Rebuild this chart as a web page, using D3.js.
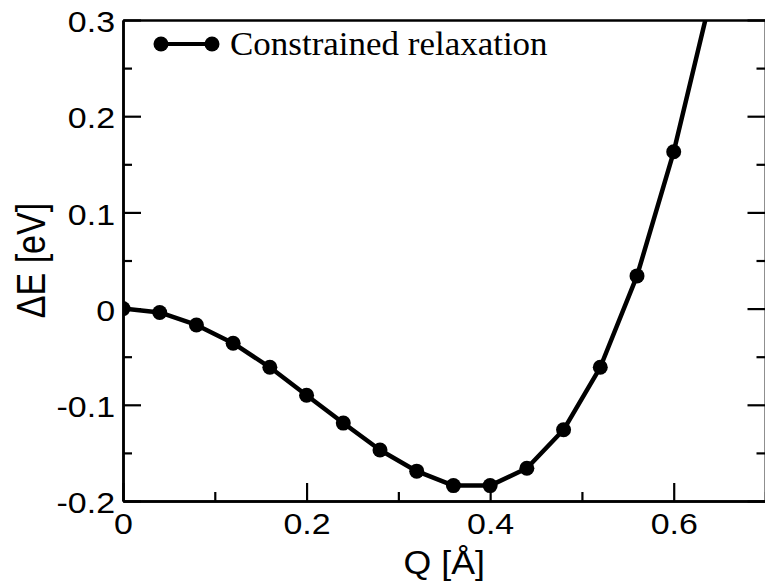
<!DOCTYPE html>
<html>
<head>
<meta charset="utf-8">
<script src="https://cdn.jsdelivr.net/npm/d3@7"></script>
<style>
  html, body { margin: 0; padding: 0; background: #fff; }
  svg { display: block; }
</style>
</head>
<body>
<svg id="chart" width="765" height="587"></svg>
<script>
// ---- data ----
const qValues = [0.00, 0.04, 0.08, 0.12, 0.16, 0.20, 0.24, 0.28, 0.32, 0.36, 0.40, 0.44, 0.48, 0.52, 0.56, 0.60, 0.64];
const energyValues = [0.000, -0.004, -0.017, -0.036, -0.061, -0.090, -0.119, -0.147, -0.169, -0.184, -0.184, -0.166, -0.126, -0.061, 0.034, 0.163, 0.322];
const seriesName = "Constrained relaxation";
const xMajorTicks = [0, 0.2, 0.4, 0.6];
const xMinorTicks = [0.1, 0.3, 0.5, 0.7];
const yMajorTicks = [-0.2, -0.1, 0, 0.1, 0.2, 0.3];
const yMinorTicks = [-0.15, -0.05, 0.05, 0.15, 0.25];
const xLabel = "Q [Å]";
const yLabel = "ΔE [eV]";

(function () {
// ---- layout ----
const pLeft = 123, pRight = 765.5, pTop = 20, pBottom = 501;
const svg = d3.select("#chart");

const x = d3.scaleLinear().domain([0, 0.7]).range([pLeft, pRight]);
const y = d3.scaleLinear().domain([-0.2, 0.3]).range([pBottom, pTop]);

const tickFont = "'Liberation Sans', Arial, Helvetica, sans-serif";
const tickSize = 29, tickStretch = 1.17;
const fmt = d => (d === 0 ? "0" : String(d));

// clip
svg.append("defs").append("clipPath").attr("id", "plotclip")
  .append("rect").attr("x", pLeft).attr("y", pTop).attr("width", pRight - pLeft).attr("height", pBottom - pTop);

// data line + markers
const data = qValues.map((q, i) => ({ q, e: energyValues[i] }));
const plot = svg.append("g").attr("clip-path", "url(#plotclip)");
plot.append("path")
  .datum(data)
  .attr("fill", "none")
  .attr("stroke", "#000")
  .attr("stroke-width", 4.5)
  .attr("stroke-linejoin", "round")
  .attr("d", d3.line().x(d => x(d.q)).y(d => y(d.e)));
plot.selectAll("circle.pt")
  .data(data)
  .join("circle")
  .attr("class", "pt")
  .attr("cx", d => x(d.q))
  .attr("cy", d => y(d.e))
  .attr("r", 7.5)
  .attr("fill", "#000");

// axes
function styleAxis(g) {
  g.select(".domain").attr("stroke", "#000").attr("stroke-width", 2.5);
  g.selectAll(".tick line").attr("stroke", "#000").attr("stroke-width", 2.2);
}

// bottom
const gxMinor = svg.append("g").attr("transform", `translate(0,${pBottom})`)
  .call(d3.axisBottom(x).tickValues(xMinorTicks).tickSize(-9).tickSizeOuter(0).tickFormat(""));
styleAxis(gxMinor);
const gx = svg.append("g").attr("transform", `translate(0,${pBottom})`)
  .call(d3.axisBottom(x).tickValues(xMajorTicks).tickSize(-18).tickSizeOuter(0).tickPadding(12).tickFormat(fmt));
styleAxis(gx);
gx.selectAll(".tick text")
  .attr("fill", "#000")
  .style("font-family", tickFont)
  .style("font-size", tickSize + "px")
  .attr("transform", `scale(${tickStretch},1)`);

// left
const gyMinor = svg.append("g").attr("transform", `translate(${pLeft},0)`)
  .call(d3.axisLeft(y).tickValues(yMinorTicks).tickSize(-9).tickSizeOuter(0).tickFormat(""));
styleAxis(gyMinor);
const gy = svg.append("g").attr("transform", `translate(${pLeft},0)`)
  .call(d3.axisLeft(y).tickValues(yMajorTicks).tickSize(-18).tickSizeOuter(0).tickPadding(8).tickFormat(fmt));
styleAxis(gy);
gy.selectAll(".tick text")
  .attr("fill", "#000")
  .style("font-family", tickFont)
  .style("font-size", tickSize + "px")
  .attr("x", -8 / tickStretch)
  .attr("dy", "0.40em")
  .attr("transform", `scale(${tickStretch},1)`);

// right (ticks only, pointing inward)
const gr1 = svg.append("g").attr("transform", `translate(${pRight},0)`)
  .call(d3.axisRight(y).tickValues(yMinorTicks).tickSize(-9).tickSizeOuter(0).tickFormat(""));
styleAxis(gr1);
const gr2 = svg.append("g").attr("transform", `translate(${pRight},0)`)
  .call(d3.axisRight(y).tickValues(yMajorTicks).tickSize(-18).tickSizeOuter(0).tickFormat(""));
styleAxis(gr2);

// top line (no ticks)
const gt = svg.append("g").attr("transform", `translate(0,${pTop})`)
  .call(d3.axisTop(x).tickValues([]).tickSizeOuter(0));
styleAxis(gt);

// axis labels
const labelFont = "'Liberation Sans', Arial, Helvetica, sans-serif";
svg.append("text")
  .attr("transform", `translate(${(pLeft + pRight) / 2},574) scale(1.05,1)`)
  .attr("text-anchor", "middle")
  .style("font-family", labelFont)
  .style("font-size", "34px")
  .attr("fill", "#000")
  .text(xLabel);
svg.append("text")
  .attr("transform", `translate(45,${(pTop + pBottom) / 2}) scale(1.17,1) rotate(-90)`)
  .attr("text-anchor", "middle")
  .style("font-family", labelFont)
  .style("font-size", "34px")
  .attr("fill", "#000")
  .text(yLabel);

// legend
const lg = svg.append("g");
const lx1 = 161, lx2 = 212, ly = 44;
lg.append("line").attr("x1", lx1).attr("x2", lx2).attr("y1", ly).attr("y2", ly)
  .attr("stroke", "#000").attr("stroke-width", 4);
lg.selectAll("circle").data([lx1, lx2]).join("circle")
  .attr("cx", d => d).attr("cy", ly).attr("r", 7.5).attr("fill", "#000");
lg.append("text")
  .attr("transform", `translate(230,${ly + 11}) scale(1.06,1)`)
  .style("font-family", "'Liberation Serif', 'Times New Roman', Times, serif")
  .style("font-size", "33px")
  .attr("fill", "#000")
  .text(seriesName);
})();
</script>
</body>
</html>
